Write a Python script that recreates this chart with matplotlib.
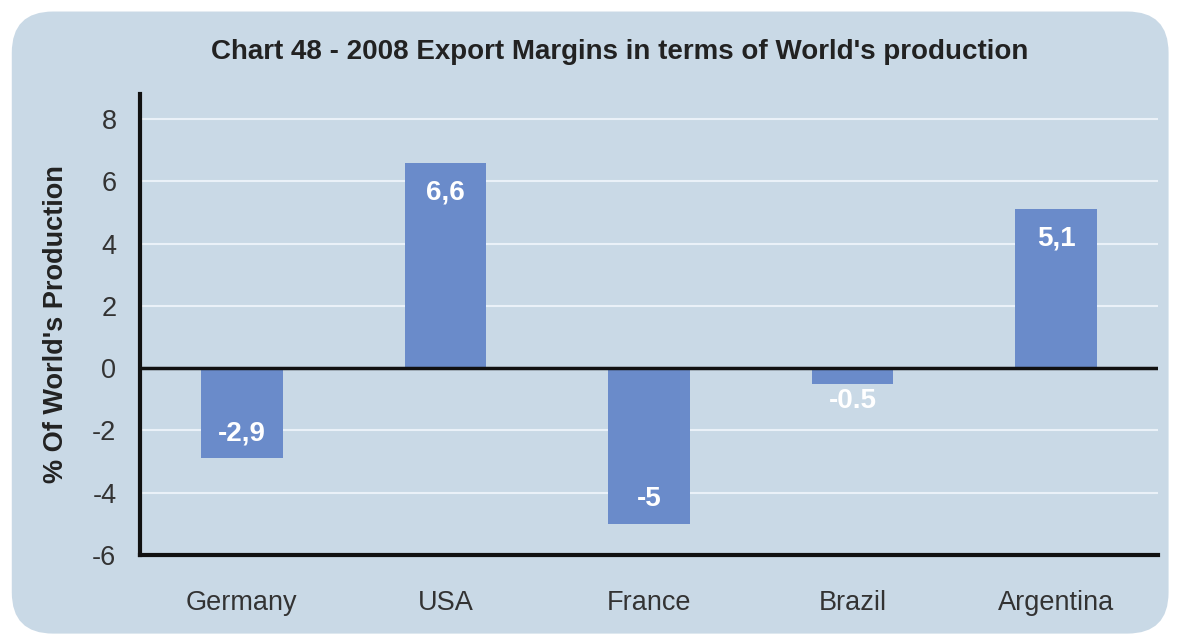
import matplotlib.pyplot as plt
from matplotlib.patches import FancyBboxPatch

plt.rcParams['font.family'] = ['Liberation Sans', 'DejaVu Sans']
plt.rcParams['axes.unicode_minus'] = False

countries = ['Germany', 'USA', 'France', 'Brazil', 'Argentina']
margins = [-2.9, 6.6, -5, -0.5, 5.1]
value_labels = ['-2,9', '6,6', '-5', '-0.5', '5,1']
yticks = [-6, -4, -2, 0, 2, 4, 6, 8]

bg = '#c9d9e6'
bar_color = '#6a8bca'

fig = plt.figure(figsize=(11.78, 6.4), dpi=100)
fig.patch.set_facecolor('white')

# fond arrondi
panel = FancyBboxPatch((0.010, 0.01), 0.982, 0.972, boxstyle='round,pad=0,rounding_size=0.035',
                       transform=fig.transFigure, facecolor=bg, edgecolor='none',
                       mutation_aspect=1178 / 640, zorder=-10)
fig.patches.append(panel)

ax = fig.add_axes([140 / 1178, (640 - 555) / 640, (1158 - 140) / 1178, (555 - 94) / 640])
ax.set_facecolor('none')
ax.set_zorder(2)

x = range(len(countries))
ax.bar(x, margins, width=0.4, color=bar_color, zorder=2)

for i, (v, lab) in enumerate(zip(margins, value_labels)):
    if abs(v) < 1:
        ypos = v - 0.55
    elif v > 0:
        ypos = v - 0.95
    else:
        ypos = v + 0.8
    ax.text(i, ypos, lab, ha='center', va='center', color='white',
            fontsize=20, fontweight='bold', zorder=3)

ax.set_xlim(-0.5, len(countries) - 0.5)
ax.set_ylim(-6, 8.8)
ax.set_yticks(yticks)
ax.set_xticks(list(x))
ax.set_xticklabels(countries)

for t in yticks:
    if t not in (0, -6):
        ax.axhline(t, color='#eaf1f8', linewidth=1.5, zorder=1)
ax.axhline(0, color='#111111', linewidth=2.5, zorder=4)

for s in ['top', 'right']:
    ax.spines[s].set_visible(False)
ax.spines['left'].set_linewidth(3)
ax.spines['bottom'].set_linewidth(3)
ax.spines['left'].set_color('#111111')
ax.spines['bottom'].set_color('#111111')

ax.tick_params(axis='both', length=0, labelsize=19.5, colors='#333333')
ax.tick_params(axis='y', pad=17)
ax.tick_params(axis='x', pad=25)

ax.set_ylabel("% Of World's Production", fontsize=19.5, fontweight='bold', color='#222222', labelpad=17)
fig.text(0.526, 1 - 52 / 640, "Chart 48 - 2008 Export Margins in terms of World's production",
         ha='center', va='center', fontsize=20, fontweight='bold', color='#222222')

fig.savefig('out.png', dpi=100)
